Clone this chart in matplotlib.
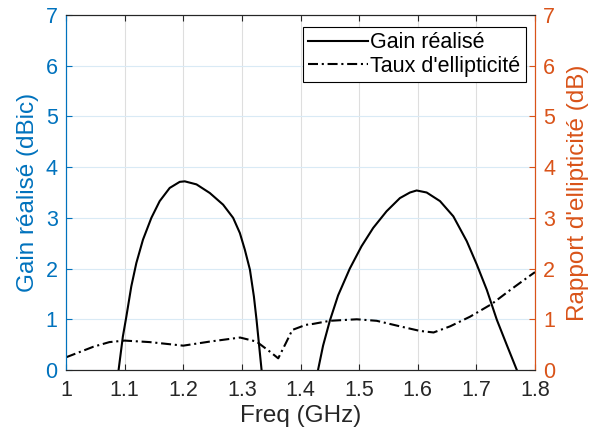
import matplotlib.pyplot as plt
import numpy as np

plt.rcParams['font.family'] = ['Liberation Sans', 'DejaVu Sans']

# gain realised (dBic), two lobes separated by a gap
gain_f = [1.0897, 1.0970, 1.1029, 1.1114, 1.1200, 1.1313, 1.1456, 1.1598, 1.1769,
          1.1940, 1.2026, 1.2226, 1.2453, 1.2680, 1.2851, 1.2966, 1.3051, 1.3137,
          1.3205, 1.3250, 1.3296, 1.3336,
          np.nan,
          1.4299, 1.4385, 1.4500, 1.4641, 1.4841, 1.5041, 1.5239, 1.5468, 1.5696,
          1.5867, 1.5981, 1.6152, 1.6380, 1.6607, 1.6836, 1.7007, 1.7178, 1.7349,
          1.7520, 1.7690]
gain = [0.00, 0.66, 1.05, 1.65, 2.11, 2.57, 3.00, 3.33, 3.59,
        3.71, 3.72, 3.66, 3.49, 3.26, 3.00, 2.70, 2.37, 1.98,
        1.45, 0.99, 0.46, 0.00,
        np.nan,
        0.00, 0.48, 0.97, 1.47, 2.00, 2.44, 2.80, 3.13, 3.39,
        3.50, 3.54, 3.50, 3.33, 3.03, 2.54, 2.08, 1.58, 0.99,
        0.49, 0.00]

# axial ratio (dB)
ar_f = [1.000, 1.047, 1.074, 1.100, 1.143, 1.200, 1.245, 1.297, 1.325, 1.348,
        1.362, 1.375, 1.386, 1.409, 1.422, 1.450, 1.496, 1.530, 1.570, 1.604,
        1.627, 1.655, 1.689, 1.726, 1.758, 1.789, 1.800]
ar = [0.25, 0.46, 0.55, 0.58, 0.55, 0.48, 0.56, 0.64, 0.56, 0.36,
      0.23, 0.53, 0.79, 0.89, 0.91, 0.97, 1.00, 0.97, 0.86, 0.77,
      0.74, 0.86, 1.05, 1.30, 1.58, 1.84, 1.93]

xticks = [1, 1.1, 1.2, 1.3, 1.4, 1.5, 1.6, 1.7, 1.8]
xticklabels = ['1', '1.1', '1.2', '1.3', '1.4', '1.5', '1.6', '1.7', '1.8']

blue = '#0072BD'
orange = '#D95319'
dark = '#262626'

fig = plt.figure(figsize=(5.92, 4.40), dpi=100)
ax = fig.add_axes([66 / 592, 70 / 440, 469 / 592, 355 / 440])
ax2 = ax.twinx()

l1, = ax.plot(gain_f, gain, color='k', lw=1.5, label='Gain réalisé')
l2, = ax2.plot(ar_f, ar, color='k', lw=1.5, ls=(0, (4.8, 1.8, 1, 1.8)),
               label="Taux d'ellipticité")

ax.set_xlim(1, 1.8)
ax.set_ylim(0, 7)
ax2.set_ylim(0, 7)
ax.set_xticks(xticks)
ax.set_xticklabels(xticklabels)
ax.set_yticks(range(8))
ax2.set_yticks(range(8))

ax.grid(True, axis='x', color='#dedede', lw=0.8)
ax.grid(True, axis='y', color='#d9eaf5', lw=0.8)
ax.set_axisbelow(True)

ax.tick_params(axis='x', direction='in', top=True, length=4, labelsize=15.5,
               colors=dark, pad=7)
ax.tick_params(axis='y', direction='in', length=4, labelsize=15.5, colors=blue,
               pad=6)
ax2.tick_params(axis='y', direction='in', length=4, labelsize=15.5,
                colors=orange, pad=6)

for s in ['top', 'bottom']:
    ax.spines[s].set_color(dark)
    ax2.spines[s].set_color(dark)
ax.spines['left'].set_color(blue)
ax2.spines['left'].set_color(blue)
ax2.spines['right'].set_color(orange)
ax.spines['right'].set_color(orange)

ax.set_xlabel('Freq (GHz)', fontsize=17.5, color=dark, labelpad=3)
ax.set_ylabel('Gain réalisé (dBic)', fontsize=17.5, color=blue, labelpad=5)
ax2.set_ylabel("Rapport d'ellipticité (dB)", fontsize=17.5, color=orange,
               labelpad=8)

leg = ax2.legend(handles=[l1, l2], loc='upper right',
                 bbox_to_anchor=(460 / 469, 343 / 355), fontsize=15.5,
                 frameon=True, fancybox=False, edgecolor='k', framealpha=1,
                 handlelength=2.8, handletextpad=0.1, borderpad=0.25,
                 labelspacing=0.12, borderaxespad=0)
leg.get_frame().set_linewidth(0.8)

fig.savefig('out.png', dpi=100)
